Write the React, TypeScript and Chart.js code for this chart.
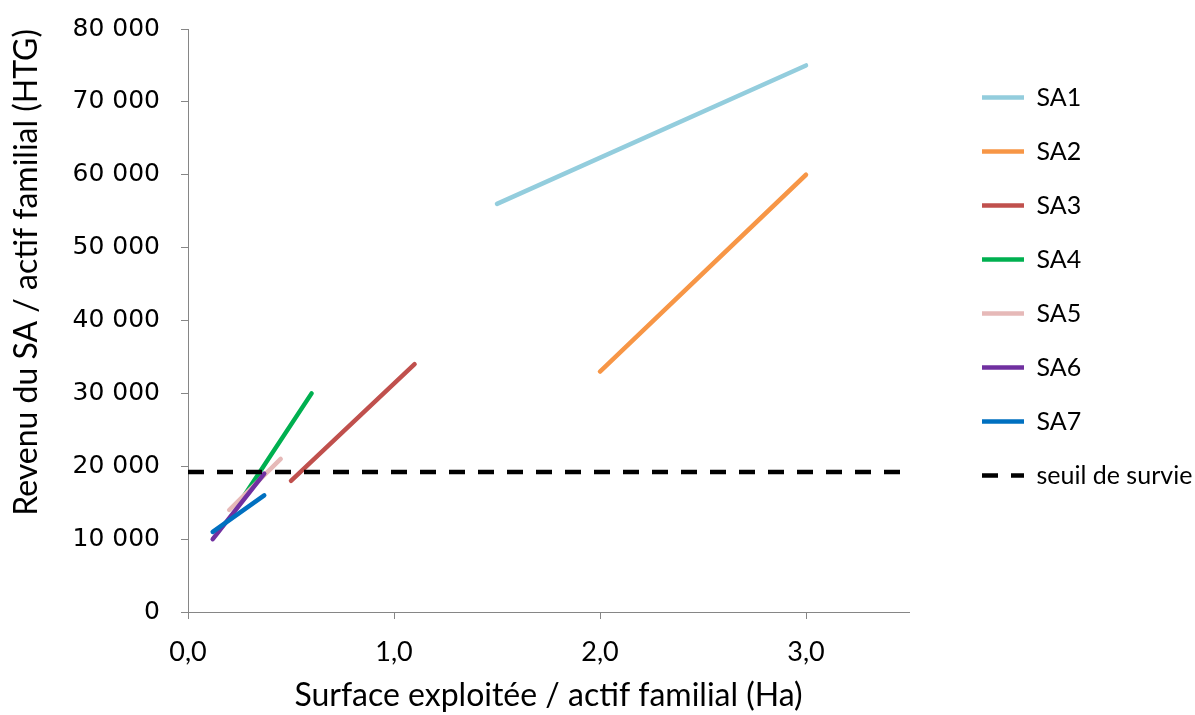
import React, { useEffect, useRef } from "react";
import { Chart, registerables } from "chart.js";

Chart.register(...registerables);

// ---- Data ----
const SERIES_NAMES = ["SA1", "SA2", "SA3", "SA4", "SA5", "SA6", "SA7"];
const SERIES_COLORS = ["#93CDDD", "#F79646", "#C0504D", "#00B050", "#E6B9B8", "#7030A0", "#0070C0"];

const SA1_X = [1.5, 3.0];
const SA1_Y = [56000, 75000];
const SA2_X = [2.0, 3.0];
const SA2_Y = [33000, 60000];
const SA3_X = [0.5, 1.1];
const SA3_Y = [18000, 34000];
const SA4_X = [0.25, 0.6];
const SA4_Y = [15000, 30000];
const SA5_X = [0.2, 0.45];
const SA5_Y = [14000, 21000];
const SA6_X = [0.12, 0.37];
const SA6_Y = [10000, 19000];
const SA7_X = [0.12, 0.37];
const SA7_Y = [11000, 16000];

const SEUIL_LABEL = "seuil de survie";
const SEUIL_X = [0, 3.5];
const SEUIL_Y = [19200, 19200];

const SERIES_XS = [SA1_X, SA2_X, SA3_X, SA4_X, SA5_X, SA6_X, SA7_X];
const SERIES_YS = [SA1_Y, SA2_Y, SA3_Y, SA4_Y, SA5_Y, SA6_Y, SA7_Y];

const X_MIN = 0;
const X_MAX = 3.5;
const X_STEP = 1;
const Y_MIN = 0;
const Y_MAX = 80000;
const Y_STEP = 10000;

const X_TITLE = "Surface exploitée / actif familial (Ha)";
const Y_TITLE = "Revenu du SA / actif familial (HTG)";

const AXIS_COLOR = "#868686";
const W = 1195;
const H = 715;

const toPoints = (xs: number[], ys: number[]) => xs.map((x, i) => ({ x, y: ys[i] }));
const fmtY = (v: number) => String(Math.round(v)).replace(/\B(?=(\d{3})+(?!\d))/g, " ");
const fmtX = (v: number) => v.toFixed(1).replace(".", ",");

export default function App() {
  const canvasRef = useRef<HTMLCanvasElement | null>(null);

  useEffect(() => {
    const canvas = canvasRef.current;
    if (!canvas) return;

    const datasets: any[] = SERIES_NAMES.map((name, i) => ({
      label: name,
      data: toPoints(SERIES_XS[i], SERIES_YS[i]),
      borderColor: SERIES_COLORS[i],
      backgroundColor: SERIES_COLORS[i],
      borderWidth: 4.5,
      borderCapStyle: "round",
      pointRadius: 0,
      pointHoverRadius: 0,
      fill: false,
      order: 20 - i,
    }));
    datasets.push({
      label: SEUIL_LABEL,
      data: toPoints(SEUIL_X, SEUIL_Y),
      borderColor: "#000000",
      backgroundColor: "#000000",
      borderWidth: 4.5,
      borderDash: [16, 13],
      borderCapStyle: "butt",
      pointRadius: 0,
      pointHoverRadius: 0,
      fill: false,
      order: 0,
    });

    const LEGEND_PAD = 29;

    const legendPlacer = {
      id: "legendPlacer",
      beforeUpdate(chart: any) {
        const lg = chart.legend;
        if (lg && !lg.__patched) {
          const orig = lg.fit.bind(lg);
          lg.fit = function () {
            orig();
            this.width = 286;
          };
          lg.__patched = true;
        }
      },
      afterLayout(chart: any) {
        const lg = chart.legend;
        if (!lg) return;
        lg.left = chart.chartArea.right + 73 - LEGEND_PAD;
        lg.right = lg.left + lg.width;
        lg.top = 56;
        lg.bottom = H;
      },
    };

    const defaultGen = (Chart as any).defaults.plugins.legend.labels.generateLabels;

    const chart = new Chart(canvas, {
      type: "line",
      data: { datasets },
      plugins: [legendPlacer],
      options: {
        animation: false,
        responsive: false,
        maintainAspectRatio: false,
        layout: { padding: { top: 29, right: 0, bottom: 0, left: 0 } },
        plugins: {
          tooltip: { enabled: false },
          legend: {
            display: true,
            position: "right",
            align: "start",
            labels: {
              usePointStyle: true,
              pointStyle: "line",
              pointStyleWidth: 42,
              boxHeight: 25,
              padding: LEGEND_PAD,
              color: "#000000",
              font: { family: "Lato", size: 25 },
              sort: (a: any, b: any) => a.datasetIndex - b.datasetIndex,
              generateLabels: (ch: any) => {
                const items = defaultGen(ch);
                return items.map((it: any) => {
                  const ds = ch.data.datasets[it.datasetIndex];
                  return {
                    ...it,
                    lineDash: ds.borderDash || [],
                    lineWidth: ds.borderWidth,
                    strokeStyle: ds.borderColor,
                    lineCap: "butt",
                    pointStyle: "line",
                  };
                });
              },
            },
          },
        },
        scales: {
          x: {
            type: "linear",
            min: X_MIN,
            max: X_MAX,
            afterFit: (scale: any) => {
              scale.height = 103;
            },
            ticks: {
              stepSize: X_STEP,
              includeBounds: false,
              padding: 17,
              color: "#000000",
              font: { family: "Lato", size: 27 },
              maxRotation: 0,
              callback: (v: any) => fmtX(Number(v)),
            },
            grid: {
              display: true,
              drawOnChartArea: false,
              drawTicks: true,
              tickLength: 7,
              color: AXIS_COLOR,
              lineWidth: 1,
            },
            border: { display: true, color: AXIS_COLOR, width: 1 },
            title: {
              display: true,
              text: X_TITLE,
              color: "#000000",
              font: { family: "Lato", size: 32 },
              padding: { top: 0, bottom: 0 },
            },
          },
          y: {
            type: "linear",
            min: Y_MIN,
            max: Y_MAX,
            afterFit: (scale: any) => {
              scale.width = 188;
              scale.paddingTop = 0;
              scale.paddingBottom = 0;
            },
            ticks: {
              stepSize: Y_STEP,
              padding: 21,
              color: "#000000",
              font: { family: "DejaVu Sans", size: 25 },
              callback: (v: any) => fmtY(Number(v)),
            },
            grid: {
              display: true,
              drawOnChartArea: false,
              drawTicks: true,
              tickLength: 7,
              color: AXIS_COLOR,
              lineWidth: 1,
            },
            border: { display: true, color: AXIS_COLOR, width: 1 },
            title: {
              display: true,
              text: Y_TITLE,
              align: "end",
              color: "#000000",
              font: { family: "Lato", size: 32 },
              padding: { top: 7, bottom: 0 },
            },
          },
        },
      },
    });

    return () => {
      chart.destroy();
    };
  }, []);

  return (
    <div style={{ position: "absolute", left: 0, top: 0, width: W, height: H, background: "#ffffff" }}>
      <canvas ref={canvasRef} width={W} height={H} style={{ display: "block", width: W, height: H }} />
    </div>
  );
}
